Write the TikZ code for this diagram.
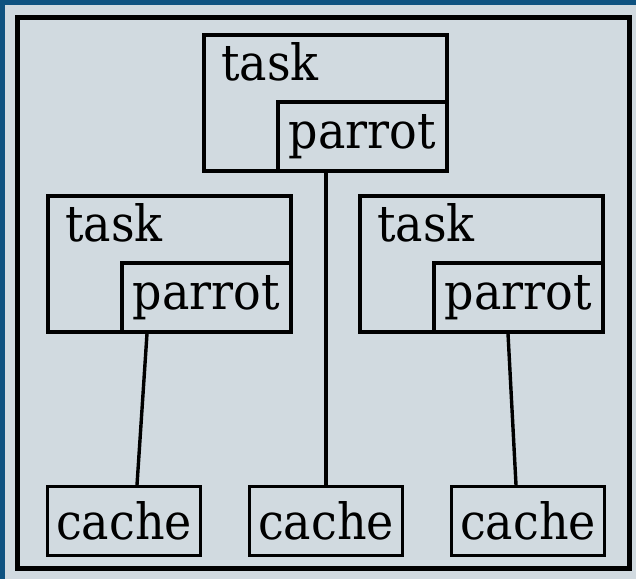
\documentclass[tikz,border=0pt]{standalone}
\usepackage{fontspec}
\setmainfont{DejaVu Serif}[FakeStretch=0.92]
\definecolor{outerblue}{HTML}{0E5280}
\definecolor{panelgray}{HTML}{D1DAE0}
\begin{document}
\begin{tikzpicture}[x=1pt,y=-1pt,
  every node/.style={font=\fontsize{50}{60}\selectfont, inner sep=0pt},
  taskbox/.style={draw, line width=3.6pt, minimum width=243pt, minimum height=136pt, anchor=north west},
  parrotbox/.style={draw, line width=3.6pt, minimum width=169pt, minimum height=69pt, anchor=south east},
  cachebox/.style={draw, line width=3pt, minimum width=153pt, minimum height=69pt, anchor=north west},
  lbl/.style={anchor=base west},
  link/.style={line width=3.4pt}]
\fill[outerblue] (0,0) rectangle (636,579);
\fill[panelgray] (5,5) rectangle (636,579);
\draw[line width=5pt] (17,17) rectangle (629,568);
% top
\node[taskbox] (t1) at (202,33) {};
\node[lbl] (l1) at (221,80) {task};
\node[parrotbox] (p1) at (t1.south east) {parrot};
% left
\node[taskbox] (t2) at (46,194) {};
\node[lbl] (l2) at (65,241) {task};
\node[parrotbox] (p2) at (t2.south east) {parrot};
% right
\node[taskbox] (t3) at (358,194) {};
\node[lbl] (l3) at (377,241) {task};
\node[parrotbox] (p3) at (t3.south east) {parrot};
% caches
\node[cachebox] (c1) at (46,485) {cache};
\node[cachebox] (c2) at (248,485) {cache};
\node[cachebox] (c3) at (450,485) {cache};
% links
\draw[link] ([xshift=27pt]p2.south west) -- ([xshift=91pt]c1.north west);
\draw[link] (c2.north |- p1.south) -- (c2.north);
\draw[link] ([xshift=76pt]p3.south west) -- ([xshift=66pt]c3.north west);
\end{tikzpicture}
\end{document}
